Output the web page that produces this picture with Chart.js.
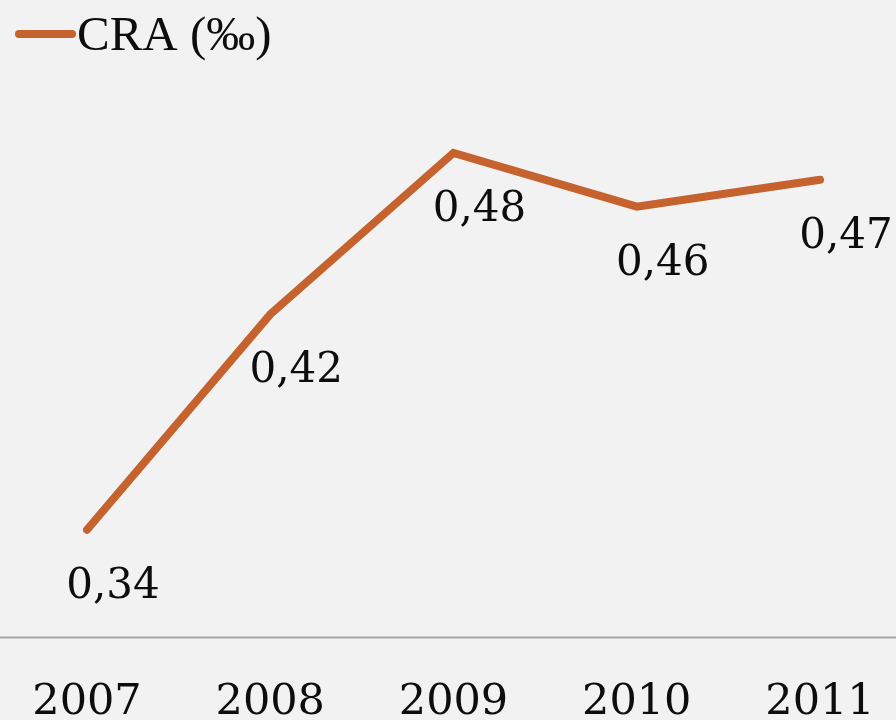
<!DOCTYPE html>
<html>
<head>
<meta charset="utf-8">
<script src="https://cdn.jsdelivr.net/npm/chart.js@4"></script>
<style>
  html, body { margin: 0; padding: 0; background: #f2f2f2; overflow: hidden; }
  #wrap { width: 896px; height: 769px; }
</style>
</head>
<body>
<div id="wrap"><canvas id="mycanvas" width="896" height="769"></canvas></div>
<script>
var years = ['2007', '2008', '2009', '2010', '2011'];
var cra = [0.34, 0.42, 0.48, 0.46, 0.47];
var seriesLabel = 'CRA (‰)';
var yMin = 0.30;
var yMax = 0.50;

var orange = '#c5622d';

function fmt(v) {
	return v.toFixed(2).replace('.', ',');
}

// legend, axis line and value labels drawn by hand
var extras = {
	id: 'extras',
	afterDraw: function(chart) {
		var ctx = chart.ctx;
		var area = chart.chartArea;
		ctx.save();

		// axis line across the whole width
		ctx.strokeStyle = '#a6a6a6';
		ctx.lineWidth = 2;
		ctx.beginPath();
		ctx.moveTo(0, area.bottom);
		ctx.lineTo(chart.width, area.bottom);
		ctx.stroke();

		// legend
		ctx.strokeStyle = orange;
		ctx.lineWidth = 8;
		ctx.lineCap = 'round';
		ctx.beginPath();
		ctx.moveTo(19, 34);
		ctx.lineTo(72, 34);
		ctx.stroke();
		ctx.fillStyle = '#0d0d0d';
		ctx.font = '49px "Liberation Serif"';
		ctx.textBaseline = 'alphabetic';
		ctx.textAlign = 'left';
		ctx.fillText(chart.data.datasets[0].label, 77, 50);

		// value labels
		var meta = chart.getDatasetMeta(0);
		ctx.font = '42px "DejaVu Serif"';
		ctx.textAlign = 'center';
		ctx.textBaseline = 'middle';
		meta.data.forEach(function(pt, i) {
			ctx.fillText(fmt(chart.data.datasets[0].data[i]), pt.x + 26, pt.y + 57);
		});
		ctx.restore();
	}
};

var ctx = document.getElementById('mycanvas');
var lineGraph = new Chart(ctx, {
	type: 'line',
	data: {
		labels: years,
		datasets: [{
			label: seriesLabel,
			data: cra,
			borderColor: orange,
			backgroundColor: orange,
			borderWidth: 8,
			pointRadius: 0,
			tension: 0,
			borderCapStyle: 'round',
			borderJoinStyle: 'miter'
		}]
	},
	options: {
		responsive: false,
		animation: false,
		devicePixelRatio: 1,
		layout: {
			padding: { top: 99, left: 87, right: 76, bottom: 0 }
		},
		plugins: {
			legend: { display: false },
			tooltip: { enabled: false }
		},
		scales: {
			x: {
				offset: false,
				grid: { display: false, drawTicks: false },
				border: { display: false },
				ticks: {
					color: '#0d0d0d',
					padding: 40,
					maxRotation: 0,
					font: { family: 'DejaVu Serif', size: 43 }
				},
				afterFit: function(scale) {
					// labels may overhang, keep the plot where the padding says
					scale.paddingLeft = 0;
					scale.paddingRight = 0;
				}
			},
			y: {
				display: false,
				min: yMin,
				max: yMax
			}
		}
	},
	plugins: [extras]
});
</script>
</body>
</html>
